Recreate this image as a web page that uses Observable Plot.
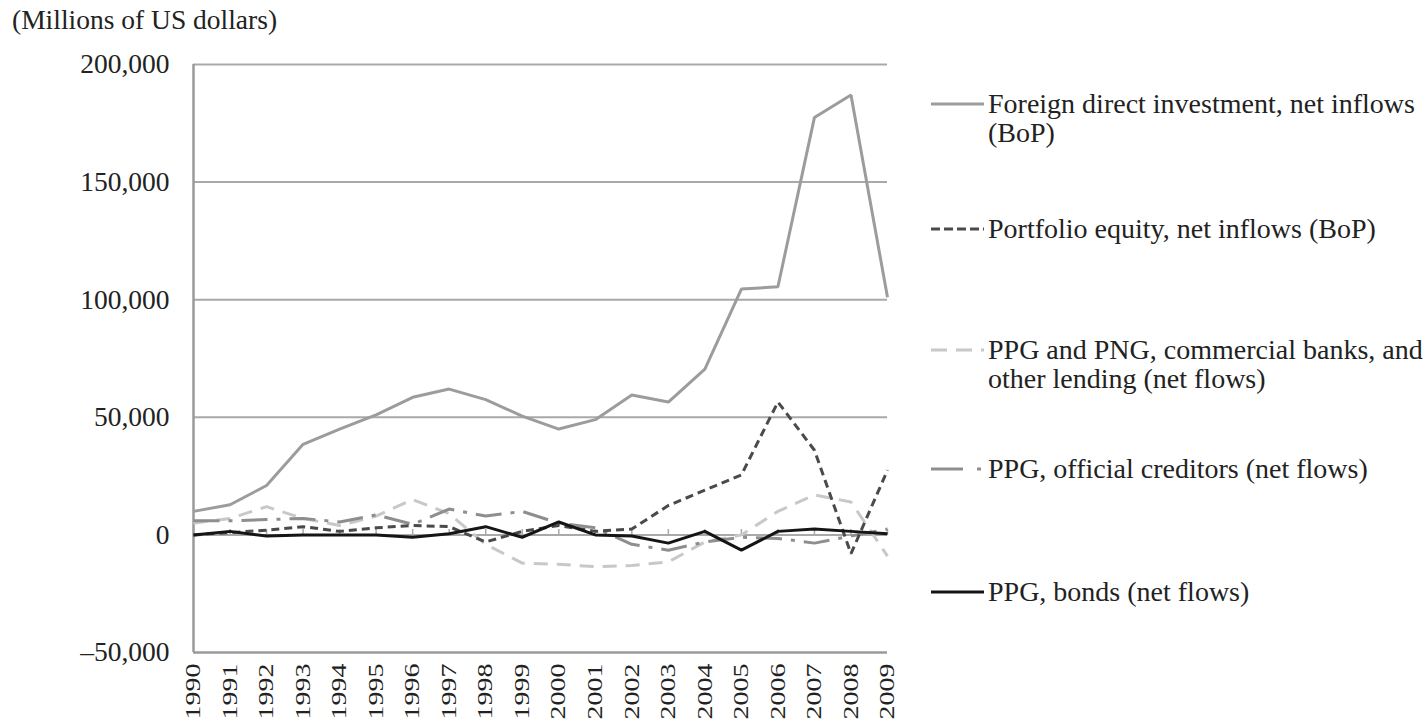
<!DOCTYPE html>
<html><head><meta charset="utf-8">
<script src="https://cdn.jsdelivr.net/npm/d3@7"></script>
<script src="https://cdn.jsdelivr.net/npm/@observablehq/plot@0.6"></script>
<style>
body{margin:0;background:#fff;font-family:"Liberation Serif","Times New Roman",serif;}
#wrap{position:relative;width:1424px;height:724px;overflow:hidden;background:#fff;}
#title{position:absolute;left:12px;top:4px;font-size:27.5px;color:#222;white-space:nowrap;}
#chart{position:absolute;left:0;top:40px;}
.legtext{position:absolute;left:988px;font-size:28px;line-height:29px;color:#222;white-space:nowrap;}
.sw{position:absolute;left:928px;}
</style></head>
<body><div id="wrap">
<div id="title">(Millions of US dollars)</div>
<div id="chart"></div>
<div id="legend"></div>
</div>
<script>
const years = [1990,1991,1992,1993,1994,1995,1996,1997,1998,1999,2000,2001,2002,2003,2004,2005,2006,2007,2008,2009];
const fdi = [10000,12800,21000,38500,45000,51000,58500,62000,57500,50500,45000,49000,59500,56500,70500,104500,105500,177500,187000,101000];
const portfolio = [0,1000,2000,3500,1500,3000,4000,3500,-3000,1500,4000,1500,2500,12500,19000,25500,56500,36000,-8000,27500];
const commercial = [5000,7000,12000,7000,4000,8000,15000,9000,-4000,-12000,-12500,-13500,-13000,-11500,-3000,0,10000,17000,14000,-9000];
const official = [6000,6000,6500,7000,5500,8500,4500,11000,8000,10000,5000,3000,-4000,-6500,-3000,-1000,-1500,-3500,-500,2500];
const bonds = [0,1500,-500,0,0,0,-1000,500,3500,-1000,5500,0,-500,-3500,1500,-6500,1500,2500,1500,500];
const seriesNames = [
  "Foreign direct investment, net inflows (BoP)",
  "Portfolio equity, net inflows (BoP)",
  "PPG and PNG, commercial banks, and other lending (net flows)",
  "PPG, official creditors (net flows)",
  "PPG, bonds (net flows)"
];
const yTicks = [-50000,0,50000,100000,150000,200000];
const gridTicks = [0,50000,100000,150000,200000];

const styles = [
  {stroke:"#9c9c9c", dash:null, width:3},
  {stroke:"#4a4a4a", dash:"8,5", width:3},
  {stroke:"#c8c8c8", dash:"14,9", width:3},
  {stroke:"#8e8e8e", dash:"26,9,4,9", width:3},
  {stroke:"#151515", dash:null, width:3}
];
const allValues = [fdi, portfolio, commercial, official, bonds];
const rows = (i) => years.map((yr, j) => ({year: yr, value: allValues[i][j], series: seriesNames[i]}));

const fmt = d3.format(",");
const lineMark = (i) => Plot.line(rows(i), {x:"year", y:"value", stroke: styles[i].stroke, strokeWidth: styles[i].width, strokeDasharray: styles[i].dash, strokeLinejoin:"miter", strokeLinecap:"butt"});

const plot = Plot.plot({
  width: 900, height: 684,
  marginTop: 24, marginBottom: 72, marginLeft: 193, marginRight: 13,
  style: {fontFamily: "'Liberation Serif','Times New Roman',serif", color: "#222", background: "transparent"},
  x: {domain: [1990, 2009], label: null},
  y: {domain: [-50000, 200000], label: null},
  marks: [
    Plot.ruleY(gridTicks, {stroke: "#a9a9a9", strokeWidth: 2}),
    Plot.ruleX(years, {y1: 0, y2: 2300, stroke: "#a9a9a9", strokeWidth: 1.5}),
    Plot.ruleX([1990], {stroke: "#9a9a9a", strokeWidth: 2.5}),
    Plot.ruleY([-50000], {stroke: "#9a9a9a", strokeWidth: 2.5}),
    lineMark(2), lineMark(3), lineMark(1), lineMark(0), lineMark(4),
    Plot.axisY({ticks: yTicks, tickSize: 0, tickPadding: 24, fontSize: 27.5, tickFormat: d => d < 0 ? "\u2013" + fmt(-d) : fmt(d)}),
    Plot.axisX({ticks: years, tickSize: 0, tickPadding: 11, tickRotate: -90, fontSize: 21, tickFormat: d => String(d)})
  ]
});
document.getElementById("chart").appendChild(plot);
d3.select(plot).selectAll("g[aria-label='x-axis tick label'] text")
  .attr("textLength", 56).attr("lengthAdjust", "spacingAndGlyphs");

// Legend
const legendItems = [
  {i:0, y:104, lines:["Foreign direct investment, net inflows","(BoP)"]},
  {i:1, y:229, lines:["Portfolio equity, net inflows (BoP)"]},
  {i:2, y:350, lines:["PPG and PNG, commercial banks, and","other lending (net flows)"]},
  {i:3, y:469, lines:["PPG, official creditors (net flows)"]},
  {i:4, y:592, lines:["PPG, bonds (net flows)"]}
];
const legend = document.getElementById("legend");
legendItems.forEach(it => {
  const s = styles[it.i];
  const svg = d3.create("svg").attr("class","sw").attr("width",60).attr("height",10)
    .style("top", (it.y - 5) + "px");
  let dash = s.dash;
  if (it.i === 1) dash = "9,4";
  if (it.i === 2) dash = "16,9";
  if (it.i === 3) dash = "32,14,4,20";
  svg.append("line").attr("x1",3).attr("x2",56).attr("y1",5).attr("y2",5)
    .attr("stroke", s.stroke).attr("stroke-width", 3).attr("stroke-dasharray", dash);
  legend.appendChild(svg.node());
  const t = document.createElement("div");
  t.className = "legtext";
  t.style.top = (it.y - 15) + "px";
  t.innerHTML = it.lines.join("<br>");
  legend.appendChild(t);
});
</script>
</body></html>
